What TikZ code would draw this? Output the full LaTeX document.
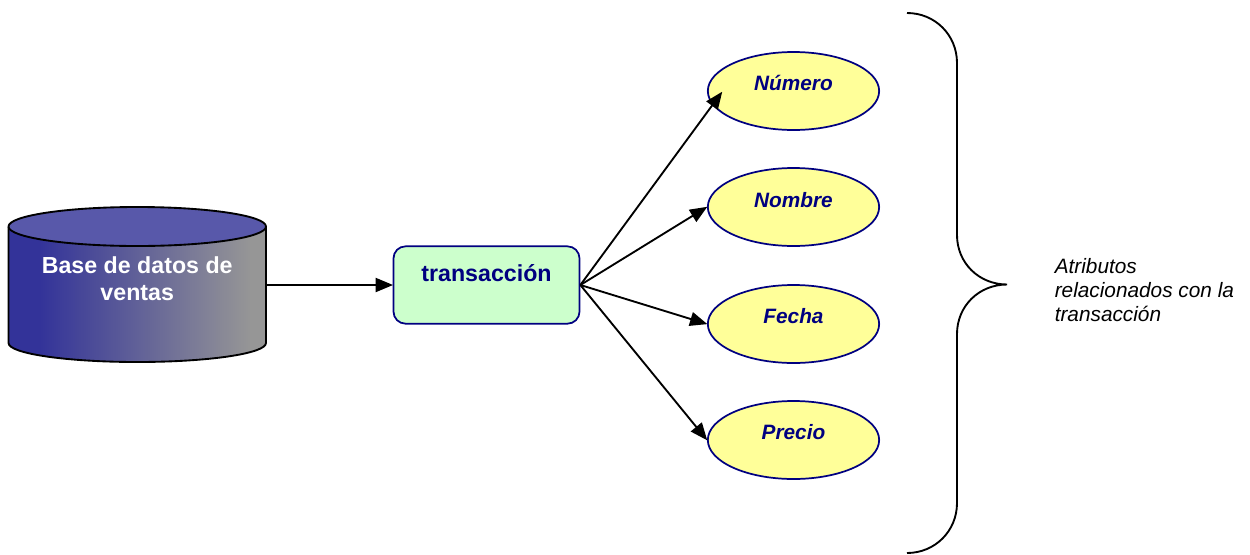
\documentclass[tikz,border=0pt]{standalone}
\usepackage{fontspec}
\setmainfont{Liberation Sans}
\usetikzlibrary{arrows.meta,shapes.geometric,calc}
\definecolor{navy}{RGB}{0,0,128}
\definecolor{dbleft}{RGB}{51,51,153}
\definecolor{dbright}{RGB}{150,150,150}
\definecolor{dbtop}{RGB}{88,88,170}
\definecolor{boxgreen}{RGB}{204,255,204}
\definecolor{attryellow}{RGB}{255,255,153}
\pgfdeclarehorizontalshading{dbshade}{100bp}{color(0bp)=(dbleft); color(31bp)=(dbleft); color(72bp)=(dbright); color(100bp)=(dbright)}
\tikzset{
  attr/.style={ellipse,draw=navy,fill=attryellow,line width=1.3pt,minimum width=128.5pt,minimum height=58.5pt,inner sep=0pt},
  attrtext/.style={font=\fontsize{15.6}{18}\selectfont\bfseries\itshape,text=navy,inner sep=0pt},
  conn/.style={draw=black,line width=1.4pt,-{Triangle[length=13pt,width=10.5pt]},shorten >=-0.3pt},
  curly/.style={draw=black,line width=1.4pt}
}
\begin{document}
\begin{tikzpicture}[x=0.75pt,y=-0.75pt]
\useasboundingbox (0,0) rectangle (1250,554);
% cylinder
\path[shading=dbshade]
  (8.5,227) -- (8.5,343) .. controls (8.5,353.5) and (66,362) .. (137.25,362) .. controls (208.5,362) and (266,353.5) .. (266,343) -- (266,227) -- cycle;
\draw[line width=1.4pt] (8.5,227) -- (8.5,343) .. controls (8.5,353.5) and (66,362) .. (137.25,362) .. controls (208.5,362) and (266,353.5) .. (266,343) -- (266,227);
\draw[line width=1.4pt,fill=dbtop] (137.25,226.5) ellipse[x radius=128.75,y radius=19.5];
\node[inner sep=0pt,minimum width=193pt,minimum height=2pt] (db) at (137.25,285) {};
\node[align=center,font=\fontsize{17.4}{20.3}\selectfont\bfseries,text=white,inner sep=0pt] (dbtext) at (137.25,279) {Base de datos de\\ventas};
% box
\node[draw=navy,fill=boxgreen,line width=1.3pt,rounded corners=9pt,minimum width=139.5pt,minimum height=58pt,inner sep=0pt] (tx) at (486.5,285) {};
\node[font=\fontsize{17.4}{20}\selectfont\bfseries,text=navy,inner sep=0pt] (txtext) at (486.5,273.5) {transacción};
% attributes
\node[attr] (num) at (793.5,91) {};
\node[attr] (nom) at (793.5,207) {};
\node[attr] (fec) at (793.5,324) {};
\node[attr] (pre) at (793.5,440) {};
\node[attrtext] (numt) at (793.5,83) {Número};
\node[attrtext] (nomt) at (793.5,200) {Nombre};
\node[attrtext] (fect) at (793.5,316) {Fecha};
\node[attrtext] (pret) at (793.5,432) {Precio};
\coordinate (numtip) at (722,92);
% connectors
\draw[conn] (db.east) -- (tx.west);
\draw[conn] (tx.east) -- (numtip);
\draw[conn] (tx.east) -- (nom.west);
\draw[conn] (tx.east) -- (fec.west);
\draw[conn] (tx.east) -- (pre.west);
% brace
\draw[curly] (907,13) .. controls (935,13) and (957,35) .. (957,63) -- (957,235) .. controls (957,263) and (979,284.5) .. (1007,284.5)
  .. controls (979,284.5) and (957,306) .. (957,334) -- (957,503) .. controls (957,531) and (935,553) .. (907,553);
\node[align=left,anchor=north west,font=\fontsize{15.6}{18.2}\selectfont\itshape,inner sep=0pt] (lab) at (1054.5,258) {Atributos\\relacionados con la\\transacción};
\end{tikzpicture}
\end{document}
